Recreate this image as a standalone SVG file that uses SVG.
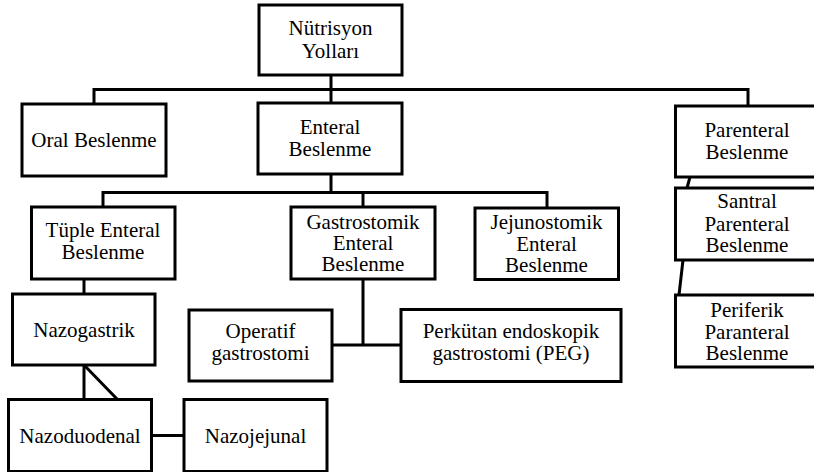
<svg xmlns="http://www.w3.org/2000/svg" width="814" height="472" viewBox="0 0 814 472">
<style>
.box{fill:#fff;stroke:#000;stroke-width:3}
.ln{fill:none;stroke:#000;stroke-width:3}
</style>
<rect width="814" height="472" fill="#fff"/>
<g id="connectors">
<path class="ln" d="M331 75 V103"/>
<path class="ln" d="M94 104 V89.5 H748 V106"/>
<path class="ln" d="M331 174 V192.5"/>
<path class="ln" d="M103 207 V192.5 H547 V208"/>
<path class="ln" d="M363 192.5 V207"/>
<path class="ln" d="M84 279 V294"/>
<path class="ln" d="M84 365 V399"/>
<path class="ln" d="M84 365 L117 399"/>
<path class="ln" d="M152 435.5 H184"/>
<path class="ln" d="M363 279 V345"/>
<path class="ln" d="M332 345 H401"/>
<path class="ln" d="M690 177 L687 188"/>
<path class="ln" d="M683 260 L679 295"/>
</g>
<g id="nutrisyon"><rect class="box" x="259" y="5" width="143" height="70"/><text font-family="Liberation Serif" font-size="21" text-anchor="middle" x="330.5" y="35">Nütrisyon</text><text font-family="Liberation Serif" font-size="21" text-anchor="middle" x="330.5" y="57.5">Yolları</text></g>
<g id="oral"><rect class="box" x="22" y="104" width="144" height="72"/><text font-family="Liberation Serif" font-size="21" text-anchor="middle" x="94" y="147">Oral Beslenme</text></g>
<g id="enteral"><rect class="box" x="258" y="103" width="144" height="71"/><text font-family="Liberation Serif" font-size="21" text-anchor="middle" x="330" y="133.5">Enteral</text><text font-family="Liberation Serif" font-size="21" text-anchor="middle" x="330" y="156">Beslenme</text></g>
<g id="parenteral"><rect class="box" x="675.5" y="106" width="145" height="71"/><text font-family="Liberation Serif" font-size="21" text-anchor="middle" x="747" y="136.5">Parenteral</text><text font-family="Liberation Serif" font-size="21" text-anchor="middle" x="747" y="158.5">Beslenme</text></g>
<g id="tuple"><rect class="box" x="31.5" y="207" width="143.5" height="72"/><text font-family="Liberation Serif" font-size="21" text-anchor="middle" x="103" y="237">Tüple Enteral</text><text font-family="Liberation Serif" font-size="21" text-anchor="middle" x="103" y="259">Beslenme</text></g>
<g id="gastrostomik"><rect class="box" x="291" y="207" width="144" height="72"/><text font-family="Liberation Serif" font-size="21" text-anchor="middle" x="363" y="228.5">Gastrostomik</text><text font-family="Liberation Serif" font-size="21" text-anchor="middle" x="363" y="250">Enteral</text><text font-family="Liberation Serif" font-size="21" text-anchor="middle" x="363" y="271">Beslenme</text></g>
<g id="jejunostomik"><rect class="box" x="475" y="208" width="143.5" height="71.5"/><text font-family="Liberation Serif" font-size="21" text-anchor="middle" x="546.5" y="229">Jejunostomik</text><text font-family="Liberation Serif" font-size="21" text-anchor="middle" x="546.5" y="251">Enteral</text><text font-family="Liberation Serif" font-size="21" text-anchor="middle" x="546.5" y="272">Beslenme</text></g>
<g id="santral"><rect class="box" x="675.5" y="188" width="145" height="72"/><text font-family="Liberation Serif" font-size="21" text-anchor="middle" x="747" y="208">Santral</text><text font-family="Liberation Serif" font-size="21" text-anchor="middle" x="747" y="231">Parenteral</text><text font-family="Liberation Serif" font-size="21" text-anchor="middle" x="747" y="252">Beslenme</text></g>
<g id="periferik"><rect class="box" x="675.5" y="295" width="145" height="72"/><text font-family="Liberation Serif" font-size="21" text-anchor="middle" x="747" y="317">Periferik</text><text font-family="Liberation Serif" font-size="21" text-anchor="middle" x="747" y="338.5">Paranteral</text><text font-family="Liberation Serif" font-size="21" text-anchor="middle" x="747" y="360">Beslenme</text></g>
<g id="nazogastrik"><rect class="box" x="12.5" y="294" width="142.5" height="71"/><text font-family="Liberation Serif" font-size="21" text-anchor="middle" x="84" y="337">Nazogastrik</text></g>
<g id="operatif"><rect class="box" x="189" y="310" width="143" height="71"/><text font-family="Liberation Serif" font-size="21" text-anchor="middle" x="260.5" y="338">Operatif</text><text font-family="Liberation Serif" font-size="21" text-anchor="middle" x="260.5" y="360">gastrostomi</text></g>
<g id="peg"><rect class="box" x="401" y="309.5" width="220" height="72"/><text font-family="Liberation Serif" font-size="21" text-anchor="middle" x="511" y="338">Perkütan endoskopik</text><text font-family="Liberation Serif" font-size="21" text-anchor="middle" x="511" y="360">gastrostomi (PEG)</text></g>
<g id="nazoduodenal"><rect class="box" x="8.5" y="399.5" width="143" height="72"/><text font-family="Liberation Serif" font-size="21" text-anchor="middle" x="80" y="443">Nazoduodenal</text></g>
<g id="nazojejunal"><rect class="box" x="184" y="399.5" width="143" height="72"/><text font-family="Liberation Serif" font-size="21" text-anchor="middle" x="255.5" y="443">Nazojejunal</text></g>
</svg>
